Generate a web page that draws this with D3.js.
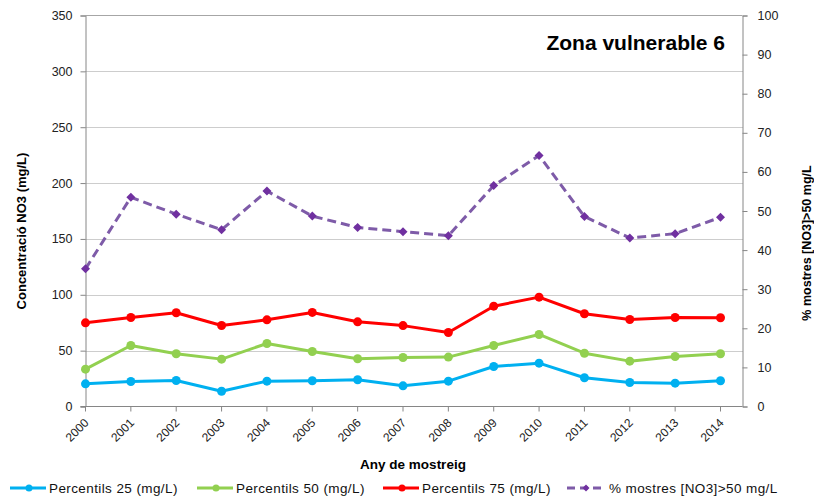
<!DOCTYPE html>
<html><head><meta charset="utf-8">
<script src="https://cdn.jsdelivr.net/npm/d3@7"></script>
<style>body{margin:0;background:#fff}svg{display:block}</style>
</head><body><svg id="c" width="814" height="496"></svg>
<script>
const years = ["2000","2001","2002","2003","2004","2005","2006","2007","2008","2009","2010","2011","2012","2013","2014"];
const p25 = [20.3,22.4,23.3,13.7,22.7,23.0,23.9,18.5,22.7,35.8,38.8,25.7,21.5,20.9,23.0];
const p50 = [33.4,54.6,47.2,42.4,56.4,49.2,42.7,43.9,44.2,54.6,64.5,47.7,40.6,44.8,47.2];
const p75 = [74.9,79.7,83.9,72.5,77.6,84.2,75.8,72.4,66.2,89.8,97.9,83.0,77.9,79.7,79.4];
const pct = [35.2,53.5,49.2,45.2,55.1,48.7,45.8,44.7,43.7,56.5,64.2,48.6,43.1,44.2,48.4];
const leftTicks = [0,50,100,150,200,250,300,350];
const rightTicks = [0,10,20,30,40,50,60,70,80,90,100];
const title = "Zona vulnerable 6";
const yTitle = "Concentració NO3 (mg/L)";
const y2Title = "% mostres [NO3]>50 mg/L";
const xTitle = "Any de mostreig";
const seriesNames = ["Percentils 25 (mg/L)","Percentils 50 (mg/L)","Percentils 75 (mg/L)","% mostres [NO3]>50 mg/L"];

const svg = d3.select("#c");
const L = 85.5, R = 742.5, T = 15.5, B = 406.5;
const font = "'Liberation Sans', Arial, sans-serif";
const x = d3.scaleLinear().domain([0, 14]).range([L, 720.5]);
const y = d3.scaleLinear().domain([0, 350]).range([B, T]);
const y2 = d3.scaleLinear().domain([0, 100]).range([B, T]);
const axisCol = "#868686";
const diamondPath = s => `M0,${-s}L${s},0L0,${s}L${-s},0Z`;

// gridlines
svg.append("g").selectAll("line").data(leftTicks.filter(d => d > 0 && d < 350)).join("line")
  .attr("x1", L).attr("x2", R).attr("y1", d => Math.round(y(d)) + 0.5).attr("y2", d => Math.round(y(d)) + 0.5)
  .attr("stroke", "#9a9a9a").attr("stroke-width", 1).attr("stroke-dasharray", "1,1");
svg.append("line").attr("x1", L).attr("x2", R).attr("y1", T).attr("y2", T).attr("stroke", "#a6a6a6");

// left axis
const gl = svg.append("g").attr("transform", `translate(${L},0)`)
  .call(d3.axisLeft(y).tickValues(leftTicks).tickSize(5).tickPadding(8).tickFormat(d3.format("d")));
gl.select(".domain").attr("stroke", axisCol);
gl.selectAll(".tick line").attr("stroke", axisCol);
gl.selectAll("text").attr("font-family", font).attr("font-size", "12.5px").attr("fill", "#222");

// right axis
const gr = svg.append("g").attr("transform", `translate(${R},0)`)
  .call(d3.axisRight(y2).tickValues(rightTicks).tickSize(5).tickPadding(10).tickFormat(d3.format("d")));
gr.select(".domain").attr("stroke", axisCol);
gr.selectAll(".tick line").attr("stroke", axisCol);
gr.selectAll("text").attr("font-family", font).attr("font-size", "12.5px").attr("fill", "#222");

// bottom axis
const gb = svg.append("g").attr("transform", `translate(0,${B})`);
gb.append("line").attr("x1", L - 5).attr("x2", R).attr("y1", 0).attr("y2", 0).attr("stroke", axisCol);
gb.selectAll("line.t").data(years).join("line").attr("class", "t")
  .attr("x1", (d, i) => x(i)).attr("x2", (d, i) => x(i)).attr("y1", 0).attr("y2", 5).attr("stroke", axisCol);
gb.selectAll("text").data(years).join("text")
  .attr("transform", (d, i) => `translate(${x(i) + 4},${17}) rotate(-45)`)
  .attr("text-anchor", "end").attr("font-family", font).attr("font-size", "12px").attr("fill", "#222")
  .text(d => d);

// series
const cols = ["#00B0F0", "#92D050", "#FF0000"];
[p25, p50, p75].forEach((s, k) => {
  svg.append("path").datum(s)
    .attr("d", d3.line().x((d, i) => x(i)).y(d => y(d)))
    .attr("fill", "none").attr("stroke", cols[k]).attr("stroke-width", 3).attr("stroke-linejoin", "round");
  svg.append("g").selectAll("circle").data(s).join("circle")
    .attr("cx", (d, i) => x(i)).attr("cy", d => y(d)).attr("r", 4.5).attr("fill", cols[k]);
});
svg.append("path").datum(pct)
  .attr("d", d3.line().x((d, i) => x(i)).y(d => y2(d)))
  .attr("fill", "none").attr("stroke", "#7E5BA8").attr("stroke-width", 3).attr("stroke-dasharray", "9,5");
svg.append("g").selectAll("path").data(pct).join("path")
  .attr("transform", (d, i) => `translate(${x(i)},${y2(d)})`).attr("d", diamondPath(4.5)).attr("fill", "#7030A0");

// titles
svg.append("text").attr("x", 725).attr("y", 50).attr("text-anchor", "end")
  .attr("font-family", font).attr("font-weight", "bold").attr("font-size", "21px").attr("fill", "#000").text(title);
svg.append("text").attr("transform", "translate(26,231) rotate(-90)").attr("text-anchor", "middle")
  .attr("font-family", font).attr("font-weight", "bold").attr("font-size", "13px").attr("fill", "#000").text(yTitle);
svg.append("text").attr("transform", "translate(811,243) rotate(-90)").attr("text-anchor", "middle")
  .attr("font-family", font).attr("font-weight", "bold").attr("font-size", "12.5px").attr("fill", "#000").text(y2Title);
svg.append("text").attr("x", 413).attr("y", 469).attr("text-anchor", "middle")
  .attr("font-family", font).attr("font-weight", "bold").attr("font-size", "13.5px").attr("fill", "#000").text(xTitle);

// legend
const legX = [10, 197, 383, 567];
const legCols = ["#00B0F0", "#92D050", "#FF0000", "#7E5BA8"];
const lg = svg.append("g");
legX.forEach((lx, k) => {
  const g = lg.append("g").attr("transform", `translate(${lx},488)`);
  if (k < 3) {
    g.append("line").attr("x1", 0).attr("x2", 36).attr("stroke", legCols[k]).attr("stroke-width", 3);
    g.append("circle").attr("cx", 19).attr("r", 3.5).attr("fill", legCols[k]);
  } else {
    g.append("line").attr("x1", 0).attr("x2", 37).attr("stroke", legCols[k]).attr("stroke-width", 3).attr("stroke-dasharray", "8,5");
    g.append("path").attr("transform", "translate(19,0)").attr("d", diamondPath(3.5)).attr("fill", "#7030A0");
  }
  g.append("text").attr("x", k < 3 ? 39 : 42).attr("y", 5).attr("font-family", font).attr("font-size", "13.5px")
    .attr("letter-spacing", "0.4px").attr("fill", "#111").text(seriesNames[k]);
});
</script></body></html>
